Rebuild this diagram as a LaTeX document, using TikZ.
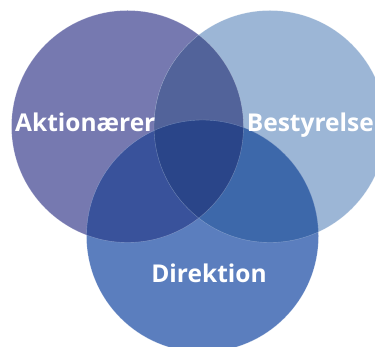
\documentclass[tikz,border=0pt]{standalone}
\usepackage{fontspec}
\setsansfont{Open Sans}
\definecolor{aktcol}{HTML}{7679B0}
\definecolor{bestcol}{HTML}{9CB6D6}
\definecolor{dircol}{HTML}{5B7EBE}
\definecolor{akbecol}{HTML}{52639A}
\definecolor{akdicol}{HTML}{39529B}
\definecolor{bedicol}{HTML}{3D68AA}
\definecolor{allcol}{HTML}{2A4589}
\tikzset{
  >=latex,
}
\tikzstyle{venntext}=[text=white,inner sep=0pt,font=\sffamily\bfseries\fontsize{24.5}{24.5}\selectfont]
\tikzstyle{rim}=[white,opacity=.3,line width=.4pt]

\begin{document}
\begin{tikzpicture}[x=1pt,y=-1pt]
        \useasboundingbox (0,0) rectangle (375,347);
        \clip (0,0) rectangle (375,347);
        \coordinate (akt) at (127.5,126.5);
        \coordinate (best) at (270,126.5);
        \coordinate (dir) at (202.5,236);
        % the three circles
        \fill[aktcol] (akt) circle (116);
        \fill[bestcol] (best) circle (116);
        \fill[dircol] (dir) circle (116);
        % overlaps, two at a time
        \begin{scope}
          \clip (akt) circle (116);
          \fill[akbecol] (best) circle (116);
          \fill[akdicol] (dir) circle (116);
        \end{scope}
        \begin{scope}
          \clip (best) circle (116);
          \fill[bedicol] (dir) circle (116);
        \end{scope}
        % middle part
        \begin{scope}
          \clip (akt) circle (116);
          \clip (best) circle (116);
          \fill[allcol] (dir) circle (116);
        \end{scope}
        \draw[rim] (akt) circle (116) (best) circle (116) (dir) circle (116);
        \node[venntext,anchor=base west] (aktionaerer) at (15,132) {Aktionærer};
        \node[venntext,anchor=base east] (bestyrelse) at (374,132) {Bestyrelse};
        \node[venntext,anchor=base] (direktion) at (209,283) {Direktion};
      \end{tikzpicture}
\end{document}
